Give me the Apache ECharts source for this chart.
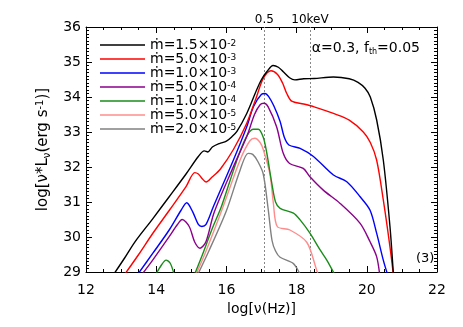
<!DOCTYPE html>
<html>
<head>
<meta charset="utf-8">
<script src="https://cdn.jsdelivr.net/npm/echarts@6/dist/echarts.min.js"></script>
<style>
  html, body { margin: 0; padding: 0; background: #fff; }
  #chart { width: 463px; height: 327px; }
</style>
</head>
<body>
<div id="chart"></div>
<script>
// accretion rates (legend text split into mantissa / exponent)
const mdotMantissa = ['1.5', '5.0', '1.0', '5.0', '1.0', '5.0', '2.0']
const mdotExponent = ['-2', '-3', '-3', '-4', '-4', '-5', '-5']
const lineColors = ['#000000', '#ff0000', '#0000ff', '#8b008b', '#1a8c1a', '#ff8c8c', '#808080']

// [log nu, log nuLnu]
const sed1p5em2 = [[12.8, 28.95], [13.1, 29.4], [13.4, 29.87], [13.9, 30.52], [14.37, 31.15], [14.85, 31.8], [15.2, 32.3], [15.37, 32.46], [15.47, 32.43], [15.6, 32.57], [15.8, 32.67], [16.0, 32.74], [16.15, 32.86], [16.3, 33.02], [16.58, 33.53], [16.86, 34.2], [17.0, 34.5], [17.15, 34.72], [17.33, 34.9], [17.48, 34.85], [17.62, 34.72], [17.8, 34.55], [17.95, 34.49], [18.2, 34.52], [18.5, 34.53], [19.05, 34.57], [19.5, 34.52], [19.75, 34.42], [19.95, 34.25], [20.1, 34.0], [20.28, 33.35], [20.47, 32.2], [20.66, 30.3], [20.76, 28.9]]
const sed5em3 = [[13.08, 28.9], [13.5, 29.5], [13.9, 30.1], [14.4, 30.8], [14.85, 31.44], [15.1, 31.84], [15.2, 31.8], [15.3, 31.68], [15.42, 31.57], [15.6, 31.72], [15.82, 31.93], [16.2, 32.5], [16.58, 33.25], [16.86, 34.01], [17.05, 34.53], [17.27, 34.75], [17.45, 34.65], [17.6, 34.4], [17.72, 34.1], [17.86, 33.88], [18.2, 33.8], [18.5, 33.72], [19.05, 33.53], [19.5, 33.34], [19.9, 33.0], [20.1, 32.7], [20.28, 32.2], [20.47, 31.06], [20.66, 29.72], [20.76, 28.9]]
const sed1em3 = [[13.45, 28.9], [13.9, 29.53], [14.37, 30.2], [14.7, 30.75], [14.87, 30.98], [15.04, 30.72], [15.2, 30.36], [15.3, 30.3], [15.42, 30.36], [15.63, 30.87], [16.2, 32.2], [16.58, 33.15], [16.77, 33.72], [17.0, 34.08], [17.1, 34.1], [17.2, 34.02], [17.35, 33.75], [17.53, 33.3], [17.65, 32.85], [17.78, 32.63], [18.1, 32.53], [18.48, 32.3], [19.05, 31.77], [19.43, 31.58], [19.81, 31.15], [20.09, 30.77], [20.28, 30.11], [20.47, 29.34], [20.6, 28.9]]
const sed5em4 = [[13.57, 28.9], [13.9, 29.34], [14.37, 30.01], [14.6, 30.35], [14.74, 30.5], [14.94, 30.3], [15.1, 29.85], [15.25, 29.68], [15.42, 29.87], [15.65, 30.7], [16.2, 32.01], [16.58, 32.87], [16.8, 33.5], [16.96, 33.78], [17.07, 33.82], [17.19, 33.72], [17.43, 33.15], [17.62, 32.39], [17.8, 32.1], [18.19, 31.96], [18.38, 31.72], [18.76, 31.34], [19.24, 30.96], [19.81, 30.39], [20.09, 29.87], [20.28, 29.44], [20.37, 28.9]]
const sed1em4 = [[13.97, 28.9], [14.15, 29.2], [14.28, 29.34], [14.4, 29.25], [14.52, 28.9], [14.8, null], [15.08, 28.9], [15.3, 29.45], [15.6, 30.25], [15.85, 30.85], [16.1, 31.6], [16.39, 32.45], [16.6, 32.92], [16.77, 33.08], [16.91, 33.08], [17.05, 32.85], [17.15, 32.4], [17.3, 31.5], [17.4, 31.0], [17.53, 30.82], [17.91, 30.68], [18.1, 30.49], [18.38, 30.11], [18.67, 29.63], [18.86, 29.34], [19.1, 28.9]]
const sed5em5 = [[15.12, 28.9], [15.4, 29.55], [15.9, 30.85], [16.39, 32.2], [16.67, 32.75], [16.81, 32.82], [16.96, 32.7], [17.05, 32.5], [17.24, 31.8], [17.34, 30.95], [17.45, 30.3], [17.81, 30.2], [18.29, 29.85], [18.57, 29.06], [18.63, 28.9]]
const sed2em5 = [[15.17, 28.9], [15.5, 29.6], [16.0, 30.75], [16.39, 31.91], [16.62, 32.39], [16.75, 32.36], [16.9, 32.15], [17.05, 31.8], [17.19, 30.8], [17.3, 29.9], [17.4, 29.6], [17.53, 29.42], [17.91, 29.24], [18.1, 28.95], [18.15, 28.9]]
const seds = [sed1p5em2, sed5em3, sed1em3, sed5em4, sed1em4, sed5em5, sed2em5]

// 0.5 keV and 10 keV in log(Hz)
const bandEdges = [17.08, 18.38]
const bandLabels = ['0.5', '10keV']

const xTicks = { min: 12, max: 22, interval: 2 }
const yTicks = { min: 29, max: 36, interval: 1 }

const font = '"DejaVu Sans", "Liberation Sans", sans-serif'
const chart = echarts.init(document.getElementById('chart'))

const seriesNames = mdotMantissa.map((m, i) => 'ṁ=' + m + '×10' + mdotExponent[i])

const frameAxis = (pos, t, split, withLabel) => ({
  type: 'value',
  position: pos,
  min: t.min,
  max: t.max,
  interval: t.interval,
  axisLine: { onZero: false, lineStyle: { color: '#000', width: 1 } },
  axisTick: { show: true, inside: true, length: 6, lineStyle: { color: '#000' } },
  minorTick: { show: true, splitNumber: split, length: 3, lineStyle: { color: '#000' } },
  splitLine: { show: false },
  axisLabel: { show: withLabel, color: '#000', fontSize: 14, fontFamily: font },
})

const series = seds.map((d, i) => ({
  name: seriesNames[i],
  type: 'line',
  data: d,
  symbol: 'none',
  smooth: 0.3,
  connectNulls: false,
  lineStyle: { color: lineColors[i], width: 1.4 },
  itemStyle: { color: lineColors[i] },
  z: 10 - i,
}))

series[0].markLine = {
  silent: true,
  symbol: 'none',
  lineStyle: { color: '#888', type: [2, 2], width: 1 },
  label: { position: 'end', distance: 1, color: '#000', fontSize: 12, fontFamily: font, formatter: p => p.name },
  data: bandEdges.map((x, i) => ({ xAxis: x, name: bandLabels[i] })),
}

const option = {
  animation: false,
  backgroundColor: '#fff',
  grid: { left: 86, right: 26, top: 27, bottom: 55 },
  title: [
    {
      text: '{a|α=0.3, f}{s|th}{a|=0.05}',
      right: 38, top: 35,
      textStyle: {
        rich: {
          a: { fontSize: 14, fontWeight: 'normal', fontFamily: font, color: '#000', lineHeight: 16 },
          s: { fontSize: 8, fontWeight: 'normal', fontFamily: font, color: '#000', lineHeight: 9, verticalAlign: 'bottom' },
        },
      },
    },
    { text: '(3)', left: 411, top: 247, textStyle: { fontSize: 13, fontWeight: 'normal', fontFamily: font, color: '#000' } },
  ],
  legend: {
    orient: 'vertical',
    left: 95, top: 33,
    icon: 'rect',
    itemWidth: 45, itemHeight: 1.6, itemGap: 0,
    data: seriesNames,
    formatter: name => {
      const i = seriesNames.indexOf(name)
      return '{a|ṁ=' + mdotMantissa[i] + '×10}{s|' + mdotExponent[i] + '}'
    },
    textStyle: {
      rich: {
        a: { fontSize: 14, fontFamily: font, color: '#000', lineHeight: 12 },
        s: { fontSize: 9, fontFamily: font, color: '#000', lineHeight: 6, verticalAlign: 'top' },
      },
    },
  },
  xAxis: [
    Object.assign(frameAxis('bottom', xTicks, 4, true), {
      name: 'log[ν(Hz)]', nameLocation: 'middle', nameGap: 30,
      nameTextStyle: { fontSize: 14, fontFamily: font, color: '#000' },
      axisLabel: { color: '#000', fontSize: 14, fontFamily: font, margin: 11 },
    }),
    frameAxis('top', xTicks, 4, false),
  ],
  yAxis: [
    Object.assign(frameAxis('left', yTicks, 10, true), {
      name: '{a|log[ν*L}{b|ν}{a|(erg s}{c|-1}{a|)]}', nameLocation: 'middle', nameGap: 34,
      nameTextStyle: {
        rich: {
          a: { fontSize: 15, fontFamily: font, color: '#000', lineHeight: 17 },
          b: { fontSize: 10, fontFamily: font, color: '#000', lineHeight: 9, verticalAlign: 'bottom' },
          c: { fontSize: 10, fontFamily: font, color: '#000', lineHeight: 9, verticalAlign: 'top' },
        },
      },
      axisLabel: { color: '#000', fontSize: 14, fontFamily: font, margin: 5 },
    }),
    frameAxis('right', yTicks, 10, false),
  ],
  series: series,
}

chart.setOption(option)
</script>
</body>
</html>
